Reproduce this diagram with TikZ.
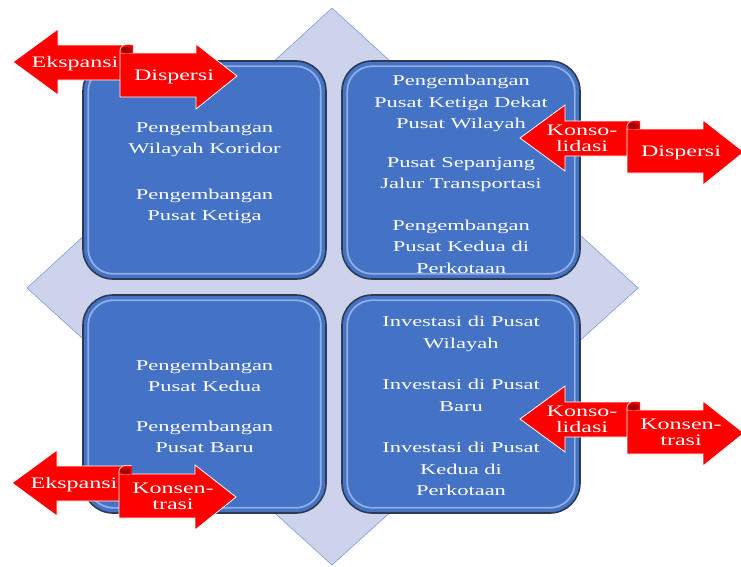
\documentclass[tikz,border=0pt]{standalone}
\usepackage{fontspec}
\setmainfont{Liberation Serif}
\usetikzlibrary{positioning, calc}

\definecolor{tileblue}{HTML}{4472C4}
\definecolor{tileedge}{HTML}{2E3A55}
\definecolor{tileshine}{HTML}{A3BEEE}
\definecolor{diamondfill}{HTML}{CDD3EA}
\definecolor{diamondedge}{HTML}{7E9BDD}
\definecolor{curlred}{HTML}{A00000}

\newcommand{\widetext}[1]{\scalebox{1.5}[1]{\begin{tabular}{@{}c@{}}#1\end{tabular}}}

\begin{document}
\begin{tikzpicture}[x=1pt, y=-1pt]
    \tikzset{
        tile/.style={
                fill=tileblue, draw=tileedge, line width=1.6pt, rounded corners=30pt,
                minimum width=243pt, minimum height=218pt, inner sep=0pt
            },
        tile shine/.style={draw=tileshine, line width=1.8pt, rounded corners=25pt, opacity=0.8},
        tile text/.style={text=white, inner sep=0pt, font=\fontsize{15}{21.5}\selectfont},
        arrow body/.style={fill=red, draw=white, line width=0.8pt, line join=miter},
        arrow text/.style={text=white, inner sep=0pt, font=\fontsize{16}{16.5}\selectfont},
        pics/arrowpair/.style 2 args={code={
                    \draw[arrow body] (0,0) -- (45,-33) -- (45,-17) -- (119,-17) -- (119,18) -- (45,18) -- (45,33) -- cycle;
                    \draw[arrow body] (107,-9) -- (183,-9) -- (183,-18) -- (224,14) -- (183,47) -- (183,35) -- (107,35) -- cycle;
                    \fill[red] (107,-9) .. controls (106,-17) and (112,-19) .. (120,-17) -- (120,-9) -- cycle;
                    \fill[curlred] (113.5,-12) ellipse (5.5 and 3.5);
                    \draw[white, line width=0.6pt] (107,-9) .. controls (106,-17) and (112,-19) .. (120,-17);
                    \node[arrow text] (-left) at (62,2) {\widetext{#1}};
                    \node[arrow text] (-right) at (161,15) {\widetext{#2}};
                }}
    }
    \useasboundingbox (0,0) rectangle (741,566);

    % background diamond
    \draw[fill=diamondfill, draw=diamondedge, line width=0.6pt] (332,8) -- (638,288) -- (332,565) -- (27,288) -- cycle;

    \node[tile] (tl) at (204.5,170) {};
    \node[tile, minimum width=238pt] (tr) at (461,170) {};
    \node[tile] (bl) at (204.5,404) {};
    \node[tile, minimum width=238pt] (br) at (461,404) {};
    \foreach \t in {tl, tr, bl, br}
    \draw[tile shine] ($(\t.south west)+(6,-6)$) rectangle ($(\t.north east)+(-6,6)$);

    \node[tile text] (tltext) at ($(tl.center)+(0,2)$) {\widetext{Pengembangan\\Wilayah Koridor\\[24pt]Pengembangan\\Pusat Ketiga}};
    \node[tile text] (trtext) at ($(tr.center)+(0,5)$) {\widetext{Pengembangan\\Pusat Ketiga Dekat\\Pusat Wilayah\\[17pt]Pusat Sepanjang\\Jalur Transportasi\\[20pt]Pengembangan\\Pusat Kedua di\\Perkotaan}};
    \node[tile text] (bltext) at ($(bl.center)+(0,3)$) {\widetext{Pengembangan\\Pusat Kedua\\[18pt]Pengembangan\\Pusat Baru}};
    \node[tile text] (brtext) at ($(br.center)+(0,3)$) {\widetext{Investasi di Pusat\\Wilayah\\[20pt]Investasi di Pusat\\Baru\\[20pt]Investasi di Pusat\\Kedua di\\Perkotaan}};

    % arrow pairs
    \pic (tlpair) at (13,62) {arrowpair={Ekspansi}{Dispersi}};
    \pic (trpair) at (520,138) {arrowpair={Konso-\\lidasi}{Dispersi}};
    \pic (brpair) at (520,419) {arrowpair={Konso-\\lidasi}{Konsen-\\trasi}};
    \pic (blpair) at (12,483) {arrowpair={Ekspansi}{Konsen-\\trasi}};
\end{tikzpicture}
\end{document}
